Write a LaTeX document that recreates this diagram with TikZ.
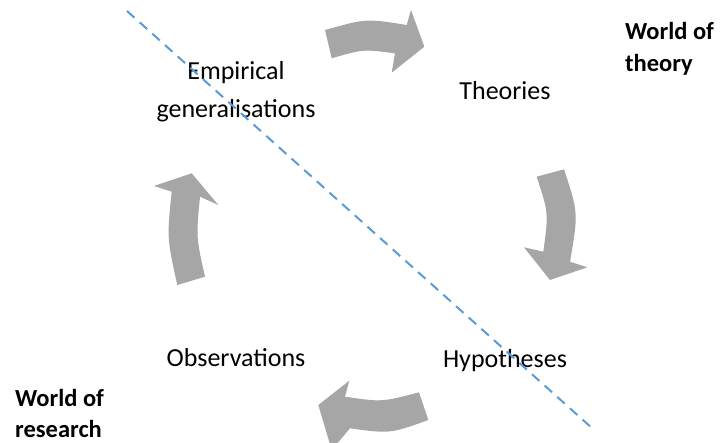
\documentclass[tikz,border=0pt]{standalone}
\usepackage{fontspec}
\setmainfont{Carlito}
\definecolor{arrowgray}{HTML}{A6A6A6}
\definecolor{divider}{RGB}{91,155,213}
\begin{document}
\begin{tikzpicture}[x=1pt,y=-1pt,
  label/.style={inner sep=0pt,anchor=base,font=\fontsize{26}{31}\selectfont},
  world/.style={inner sep=0pt,anchor=base west,font=\fontsize{24.5}{30}\selectfont\bfseries},
  blockarrow/.style={fill=arrowgray,draw=none},
  divline/.style={draw=divider,line width=2pt,dash pattern=on 10pt off 7pt}]
\useasboundingbox (0,0) rectangle (721,443);
\begin{scope}
\clip (0,0) rectangle (721,443);

% Cycle labels
\node[label] (emp1) at (236,80) {Empirical};
\node[label] (emp2) at (236,118) {generalisations};
\node[label] (theo) at (505,100) {Theories};
\node[label] (hyp) at (505,368) {Hypotheses};
\node[label] (obs) at (236,367) {Observations};

% The two worlds
\node[world] (wt1) at (625,40) {World of};
\node[world] (wt2) at (625,72) {theory};
\node[world] (wr1) at (15,407) {World of};
\node[world] (wr2) at (15,438) {research};

% Curved block arrows around the cycle
% Empirical generalisations -> Theories
\fill[blockarrow] (325,30) .. controls (366,18.5) .. (406.7,25)
  -- (411,10) -- (424.3,46.7) -- (391.7,72.7) -- (395,53.3)
  .. controls (363,49.2) .. (331.7,58.3) -- cycle;
% Theories -> Hypotheses
\fill[blockarrow] (536.7,176.7) -- (564,169.3)
  .. controls (578.4,213) .. (570,261.7)
  -- (587.3,267.3) -- (550,280) -- (524,247.3) -- (543.3,251.7)
  .. controls (548.6,213) .. cycle;
% Hypotheses -> Observations
\fill[blockarrow] (419,392.3) .. controls (382,402.1) .. (345,396.7)
  -- (349.3,380.7) -- (318.3,405) -- (331.7,450) -- (350,428.3)
  .. controls (390,433.8) .. (428.3,420) -- cycle;
% Observations -> Empirical generalisations
\fill[blockarrow] (177.3,285) .. controls (166.9,238) .. (171.7,191.7)
  -- (154,186) -- (191.7,173.3) -- (218.3,205) -- (200,196.7)
  .. controls (196.1,237) .. (205,276.7) -- cycle;

% Divider between the worlds
\coordinate (d1) at (127,11);
\coordinate (d2) at (593,429);
\draw[divline] (d1) -- (d2);
\end{scope}
\end{tikzpicture}
\end{document}
